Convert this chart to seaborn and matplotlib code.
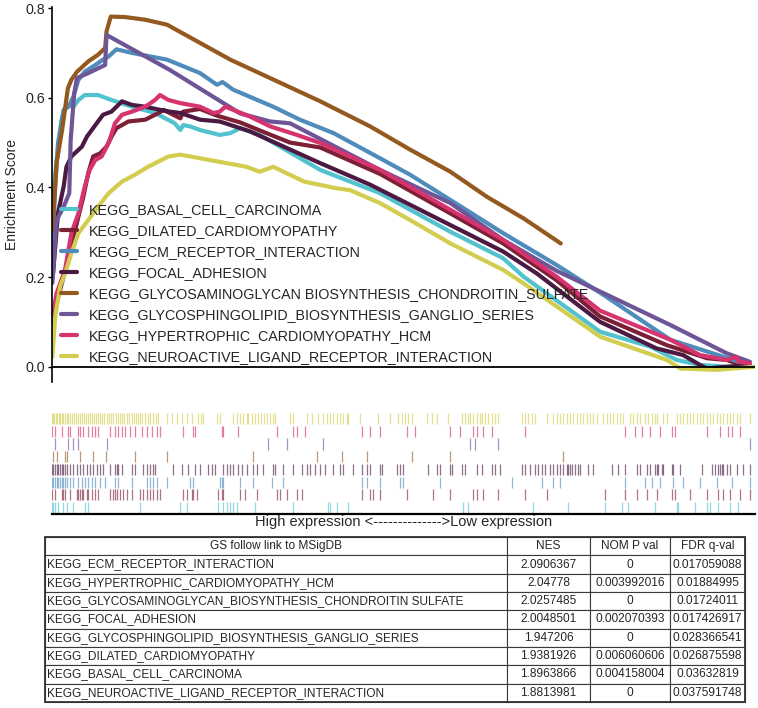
import matplotlib
matplotlib.use("Agg")
import matplotlib.pyplot as plt
import numpy as np
import pandas as pd
import seaborn as sns

# gene sets in legend order
gene_sets = [
    "KEGG_BASAL_CELL_CARCINOMA",
    "KEGG_DILATED_CARDIOMYOPATHY",
    "KEGG_ECM_RECEPTOR_INTERACTION",
    "KEGG_FOCAL_ADHESION",
    "KEGG_GLYCOSAMINOGLYCAN BIOSYNTHESIS_CHONDROITIN_SULFATE",
    "KEGG_GLYCOSPHINGOLIPID_BIOSYNTHESIS_GANGLIO_SERIES",
    "KEGG_HYPERTROPHIC_CARDIOMYOPATHY_HCM",
    "KEGG_NEUROACTIVE_LIGAND_RECEPTOR_INTERACTION",
]
set_colors = ["#52c2cf", "#7d1f35", "#4f8cbc", "#4b1941",
              "#94591f", "#6e5596", "#d6336f", "#d2cd4f"]

# running enrichment score (x = fraction of the ranked list)
basal_x = [0.0, 0.001, 0.007, 0.014, 0.021, 0.031, 0.038, 0.047, 0.066, 0.085, 0.114, 0.147, 0.175,
           0.183, 0.187, 0.197, 0.211, 0.239, 0.254, 0.268, 0.296, 0.382, 0.467, 0.567, 0.642,
           0.671, 0.780, 0.851, 0.889, 0.922, 0.960, 0.993]
basal_es = [0.33, 0.372, 0.461, 0.551, 0.584, 0.580, 0.595, 0.606, 0.606, 0.595, 0.580, 0.566, 0.543,
            0.528, 0.539, 0.536, 0.528, 0.517, 0.521, 0.532, 0.517, 0.439, 0.387, 0.301, 0.242,
            0.201, 0.078, 0.045, 0.015, 0.004, 0.0, 0.002]

dilated_x = [0.001, 0.010, 0.017, 0.028, 0.038, 0.045, 0.052, 0.059, 0.069, 0.078, 0.085, 0.092,
             0.109, 0.133, 0.152, 0.159, 0.183, 0.187, 0.211, 0.235, 0.268, 0.296, 0.339, 0.382,
             0.467, 0.567, 0.642, 0.718, 0.780, 0.875, 0.932, 0.960, 0.982]
dilated_es = [0.10, 0.16, 0.201, 0.27, 0.335, 0.379, 0.432, 0.469, 0.476, 0.491, 0.513, 0.532,
              0.547, 0.551, 0.566, 0.573, 0.554, 0.569, 0.575, 0.560, 0.545, 0.527, 0.500, 0.489,
              0.430, 0.342, 0.275, 0.193, 0.112, 0.048, 0.019, 0.015, 0.004]

ecm_x = [0.001, 0.005, 0.009, 0.017, 0.024, 0.031, 0.038, 0.047, 0.062, 0.073, 0.081, 0.092, 0.114,
         0.164, 0.211, 0.235, 0.243, 0.258, 0.315, 0.353, 0.401, 0.467, 0.510, 0.567, 0.642, 0.718,
         0.785, 0.880, 0.960, 0.990]
ecm_es = [0.25, 0.402, 0.499, 0.573, 0.580, 0.603, 0.640, 0.658, 0.673, 0.685, 0.692, 0.708, 0.700,
          0.685, 0.655, 0.629, 0.635, 0.618, 0.580, 0.551, 0.521, 0.465, 0.428, 0.372, 0.298, 0.227,
          0.160, 0.060, 0.020, 0.004]

focal_x = [0.002, 0.009, 0.017, 0.021, 0.028, 0.043, 0.050, 0.064, 0.073, 0.085, 0.100, 0.114, 0.133,
           0.154, 0.168, 0.183, 0.211, 0.239, 0.282, 0.382, 0.453, 0.567, 0.642, 0.690, 0.780, 0.860,
           0.898, 0.922, 0.932, 0.960, 0.993]
focal_es = [0.209, 0.343, 0.402, 0.446, 0.469, 0.491, 0.513, 0.543, 0.562, 0.569, 0.592, 0.584, 0.580,
            0.573, 0.569, 0.566, 0.551, 0.547, 0.525, 0.454, 0.406, 0.316, 0.257, 0.208, 0.100, 0.041,
            0.026, 0.004, -0.004, 0.0, 0.003]

gag_x = [0.001, 0.007, 0.015, 0.023, 0.028, 0.036, 0.052, 0.066, 0.076, 0.078, 0.084, 0.104, 0.133,
         0.164, 0.254, 0.382, 0.453, 0.510, 0.567, 0.619, 0.671, 0.724]
gag_es = [0.305, 0.455, 0.53, 0.621, 0.640, 0.658, 0.681, 0.696, 0.711, 0.748, 0.781, 0.780, 0.774,
          0.763, 0.685, 0.592, 0.536, 0.484, 0.435, 0.379, 0.331, 0.275]

gsl_x = [0.001, 0.007, 0.017, 0.025, 0.027, 0.032, 0.036, 0.052, 0.076, 0.078, 0.168, 0.268, 0.311,
         0.339, 0.467, 0.567, 0.642, 0.718, 0.785, 0.880, 0.960, 0.993]
gsl_es = [0.187, 0.327, 0.357, 0.387, 0.506, 0.610, 0.644, 0.655, 0.673, 0.740, 0.662, 0.565, 0.547,
          0.543, 0.439, 0.365, 0.283, 0.214, 0.164, 0.093, 0.030, 0.011]

hcm_x = [0.001, 0.007, 0.019, 0.028, 0.038, 0.047, 0.054, 0.062, 0.071, 0.081, 0.090, 0.100, 0.114,
         0.133, 0.147, 0.154, 0.166, 0.183, 0.211, 0.230, 0.239, 0.247, 0.282, 0.311, 0.349, 0.382,
         0.467, 0.567, 0.642, 0.718, 0.780, 0.880, 0.922, 0.960, 0.974, 0.977, 0.993]
hcm_es = [0.112, 0.164, 0.216, 0.298, 0.342, 0.402, 0.439, 0.461, 0.469, 0.499, 0.543, 0.562, 0.569,
          0.580, 0.595, 0.606, 0.595, 0.588, 0.580, 0.566, 0.569, 0.580, 0.558, 0.536, 0.517, 0.499,
          0.439, 0.350, 0.283, 0.201, 0.125, 0.060, 0.026, 0.015, 0.022, 0.011, 0.008]

neuro_x = [0.001, 0.005, 0.012, 0.019, 0.028, 0.038, 0.052, 0.066, 0.081, 0.100, 0.118, 0.137, 0.156,
           0.166, 0.183, 0.211, 0.249, 0.277, 0.296, 0.315, 0.359, 0.405, 0.424, 0.467, 0.510, 0.567,
           0.642, 0.671, 0.780, 0.875, 0.894, 0.946, 1.0]
neuro_es = [0.022, 0.112, 0.179, 0.208, 0.253, 0.298, 0.327, 0.357, 0.387, 0.413, 0.428, 0.446, 0.461,
            0.469, 0.473, 0.465, 0.454, 0.446, 0.435, 0.446, 0.413, 0.398, 0.394, 0.365, 0.327, 0.275,
            0.216, 0.186, 0.067, 0.015, -0.004, -0.007, 0.0]

curves_x = [basal_x, dilated_x, ecm_x, focal_x, gag_x, gsl_x, hcm_x, neuro_x]
curves_es = [basal_es, dilated_es, ecm_es, focal_es, gag_es, gsl_es, hcm_es, neuro_es]

# hit positions in the ranked list (list length RANK_N)
RANK_N = 2109
basal_hits = [0, 3, 10, 20, 35, 45, 65, 100, 110, 265, 385, 405, 500, 515, 525, 535, 545, 555, 610,
              725, 830, 835, 855, 890, 1235, 1250, 1445, 1550, 1660, 1710, 1730, 1810, 1875, 1880,
              1930, 1965, 1975, 2000, 2035, 2060]
dilated_hits = [0, 10, 30, 35, 40, 55, 75, 80, 85, 90, 95, 105, 110, 120, 130, 140, 175, 185, 190,
                195, 205, 215, 225, 240, 265, 275, 285, 295, 305, 315, 325, 395, 405, 420, 425, 435,
                500, 510, 515, 565, 580, 615, 675, 685, 705, 735, 750, 930, 955, 965, 985, 1065,
                1145, 1195, 1265, 1275, 1295, 1340, 1420, 1485, 1660, 1720, 1755, 1785, 1815, 1860,
                1870, 1915, 1965, 2000, 2015, 2035, 2065, 2095]
ecm_hits = [0, 5, 10, 15, 20, 25, 30, 35, 40, 45, 55, 65, 80, 90, 100, 110, 120, 130, 145, 160, 190,
            200, 240, 285, 295, 305, 315, 345, 415, 425, 505, 510, 515, 565, 605, 660, 695, 930, 945,
            985, 1045, 1055, 1165, 1380, 1470, 1505, 1525, 1720, 1780, 1800, 1825, 1865, 1895, 1945,
            1995, 2040, 2095]
focal_hits = [0, 5, 10, 15, 20, 25, 30, 35, 40, 45, 55, 65, 75, 85, 95, 105, 115, 125, 135, 145, 155,
              175, 190, 195, 200, 210, 240, 250, 275, 285, 295, 305, 310, 365, 390, 410, 430, 445,
              470, 480, 490, 515, 525, 535, 545, 560, 570, 585, 605, 615, 635, 665, 670, 695, 725,
              750, 765, 775, 790, 805, 820, 845, 865, 875, 905, 930, 945, 955, 985, 990, 1035, 1045,
              1055, 1130, 1155, 1165, 1195, 1200, 1230, 1240, 1275, 1290, 1320, 1330, 1345, 1410,
              1420, 1435, 1450, 1460, 1470, 1480, 1495, 1505, 1515, 1525, 1535, 1545, 1550, 1555,
              1560, 1570, 1580, 1585, 1610, 1625, 1680, 1700, 1720, 1755, 1765, 1785, 1795, 1810,
              1815, 1820, 1830, 1835, 1860, 1865, 1885, 1950, 1980, 1990, 2000, 2005, 2010, 2015,
              2025, 2035, 2055, 2075, 2095]
gag_hits = [3, 17, 40, 45, 85, 123, 163, 250, 345, 605, 795, 870, 945, 1080, 1195, 1533]
gsl_hits = [10, 50, 65, 80, 165, 650, 705, 815, 1255, 1270, 1340, 2095]
hcm_hits = [0, 10, 30, 50, 55, 80, 85, 95, 110, 120, 130, 140, 175, 190, 200, 210, 220, 235, 250,
            270, 285, 300, 315, 325, 395, 425, 430, 510, 515, 560, 675, 725, 735, 760, 930, 955,
            985, 1065, 1090, 1195, 1225, 1265, 1275, 1295, 1320, 1420, 1720, 1750, 1770, 1795, 1825,
            1860, 1870, 1965, 2005, 2030, 2040, 2065]
neuro_hits = [0, 4, 8, 12, 16, 21, 26, 30, 35, 40, 45, 50, 55, 60, 66, 72, 78, 84, 90, 96, 102, 108,
              114, 120, 126, 132, 140, 146, 152, 158, 165, 172, 178, 185, 192, 198, 205, 212, 218,
              225, 232, 240, 246, 252, 258, 265, 272, 280, 288, 296, 304, 312, 320, 345, 360, 375,
              390, 405, 420, 440, 448, 455, 495, 505, 545, 555, 565, 575, 585, 590, 600, 610, 620,
              628, 636, 645, 655, 665, 670, 715, 725, 765, 780, 800, 815, 825, 835, 845, 855, 865,
              875, 885, 890, 925, 980, 1015, 1040, 1050, 1060, 1070, 1080, 1125, 1140, 1155, 1190,
              1230, 1240, 1250, 1255, 1265, 1275, 1285, 1290, 1300, 1310, 1320, 1330, 1340, 1410,
              1420, 1430, 1440, 1450, 1485, 1505, 1515, 1525, 1535, 1545, 1555, 1565, 1575, 1585,
              1595, 1605, 1615, 1625, 1635, 1655, 1665, 1675, 1685, 1695, 1705, 1715, 1735, 1745,
              1755, 1765, 1780, 1790, 1800, 1810, 1815, 1835, 1845, 1875, 1885, 1895, 1905, 1915,
              1925, 1935, 1945, 1955, 1965, 1975, 1985, 1995, 2005, 2015, 2025, 2035, 2045, 2055,
              2065, 2095]
hits = [basal_hits, dilated_hits, ecm_hits, focal_hits, gag_hits, gsl_hits, hcm_hits, neuro_hits]

# summary table
table_header = ["GS follow link to MSigDB", "NES", "NOM P val", "FDR q-val"]
table_names = ["KEGG_ECM_RECEPTOR_INTERACTION", "KEGG_HYPERTROPHIC_CARDIOMYOPATHY_HCM",
               "KEGG_GLYCOSAMINOGLYCAN_BIOSYNTHESIS_CHONDROITIN SULFATE", "KEGG_FOCAL_ADHESION",
               "KEGG_GLYCOSPHINGOLIPID_BIOSYNTHESIS_GANGLIO_SERIES", "KEGG_DILATED_CARDIOMYOPATHY",
               "KEGG_BASAL_CELL_CARCINOMA", "KEGG_NEUROACTIVE_LIGAND_RECEPTOR_INTERACTION"]
table_nes = ["2.0906367", "2.04778", "2.0257485", "2.0048501", "1.947206", "1.9381926",
             "1.8963866", "1.8813981"]
table_p = ["0", "0.003992016", "0", "0.002070393", "0", "0.006060606", "0.004158004", "0"]
table_fdr = ["0.017059088", "0.01884995", "0.01724011", "0.017426917", "0.028366541",
             "0.026875598", "0.03632819", "0.037591748"]

sns.set_theme(style="white")
plt.rcParams["font.family"] = ["Liberation Sans", "DejaVu Sans"]

fig = plt.figure(figsize=(7.58, 7.08), dpi=100)

# ---- running ES curves
ax = fig.add_axes([0.0682, 0.4605, 0.9276, 0.53])
rows = []
for name, xs, es in zip(gene_sets, curves_x, curves_es):
    for x, y in zip(xs, es):
        rows.append({"rank": x, "es": y, "gene_set": name})
df = pd.DataFrame(rows)
sns.lineplot(data=df, x="rank", y="es", hue="gene_set", hue_order=gene_sets,
             palette=dict(zip(gene_sets, set_colors)), estimator=None, sort=False,
             lw=3.0, ax=ax)
ax.axhline(0, color="black", lw=1.3, zorder=5)
ax.set_xlim(0, 1)
ax.set_ylim(-0.034, 0.803)
ax.set_xticks([])
ax.set_yticks([0.0, 0.2, 0.4, 0.6, 0.8])
ax.set_yticklabels(["0.0", "0.2", "0.4", "0.6", "0.8"])
ax.tick_params(axis="y", left=True, length=3, width=1, labelsize=10.3, pad=2, color="black")
for s in ["top", "right", "bottom"]:
    ax.spines[s].set_visible(False)
ax.spines["left"].set_color("black")
ax.spines["left"].set_linewidth(1.2)
ax.set_xlabel("")
ax.set_ylabel("Enrichment Score", fontsize=10)
ax.yaxis.set_label_coords(-0.047, 0.5)
ax.legend(loc="upper left", bbox_to_anchor=(0.013, 0.477), frameon=False, fontsize=10.3,
          handlelength=1.15, handletextpad=0.8, labelspacing=0.49, borderpad=0,
          borderaxespad=0)

# ---- hit rug
ax2 = fig.add_axes([0.0682, 0.274, 0.9276, 0.144])
for i, (h, c) in enumerate(zip(hits, set_colors)):
    ax2.vlines(np.array(h) / RANK_N, i + 0.06, i + 0.94, color=c, lw=0.9, alpha=0.62)
ax2.set_xlim(0, 1)
ax2.set_ylim(0, 8)
ax2.set_xticks([])
ax2.set_yticks([])
for s in ["top", "right", "left"]:
    ax2.spines[s].set_visible(False)
ax2.spines["bottom"].set_color("black")
ax2.spines["bottom"].set_linewidth(1.6)
ax2.text(0.5, -0.08, "High expression <-------------->Low expression", transform=ax2.transAxes,
         ha="center", va="center", fontsize=10.5)

# ---- table
ax3 = fig.add_axes([0.0594, 0.0085, 0.9235, 0.233])
ax3.axis("off")
cells = [list(r) for r in zip(table_names, table_nes, table_p, table_fdr)]
tab = ax3.table(cellText=cells, colLabels=table_header, colWidths=[0.66, 0.1186, 0.1143, 0.1071],
                cellLoc="center", bbox=[0, 0, 1, 1])
tab.auto_set_font_size(False)
tab.set_fontsize(8.6)
for (r, c), cell in tab.get_celld().items():
    cell.set_edgecolor("#3a3a3a")
    cell.set_linewidth(0.8)
    if c == 0 and r > 0:
        cell.PAD = 0.004
        cell.get_text().set_ha("left")
        cell._loc = "left"
ax3.add_patch(plt.Rectangle((0, 0), 1, 1, transform=ax3.transAxes, fill=False,
                            edgecolor="#333333", lw=1.3, clip_on=False))

fig.savefig("out.png", dpi=100)
